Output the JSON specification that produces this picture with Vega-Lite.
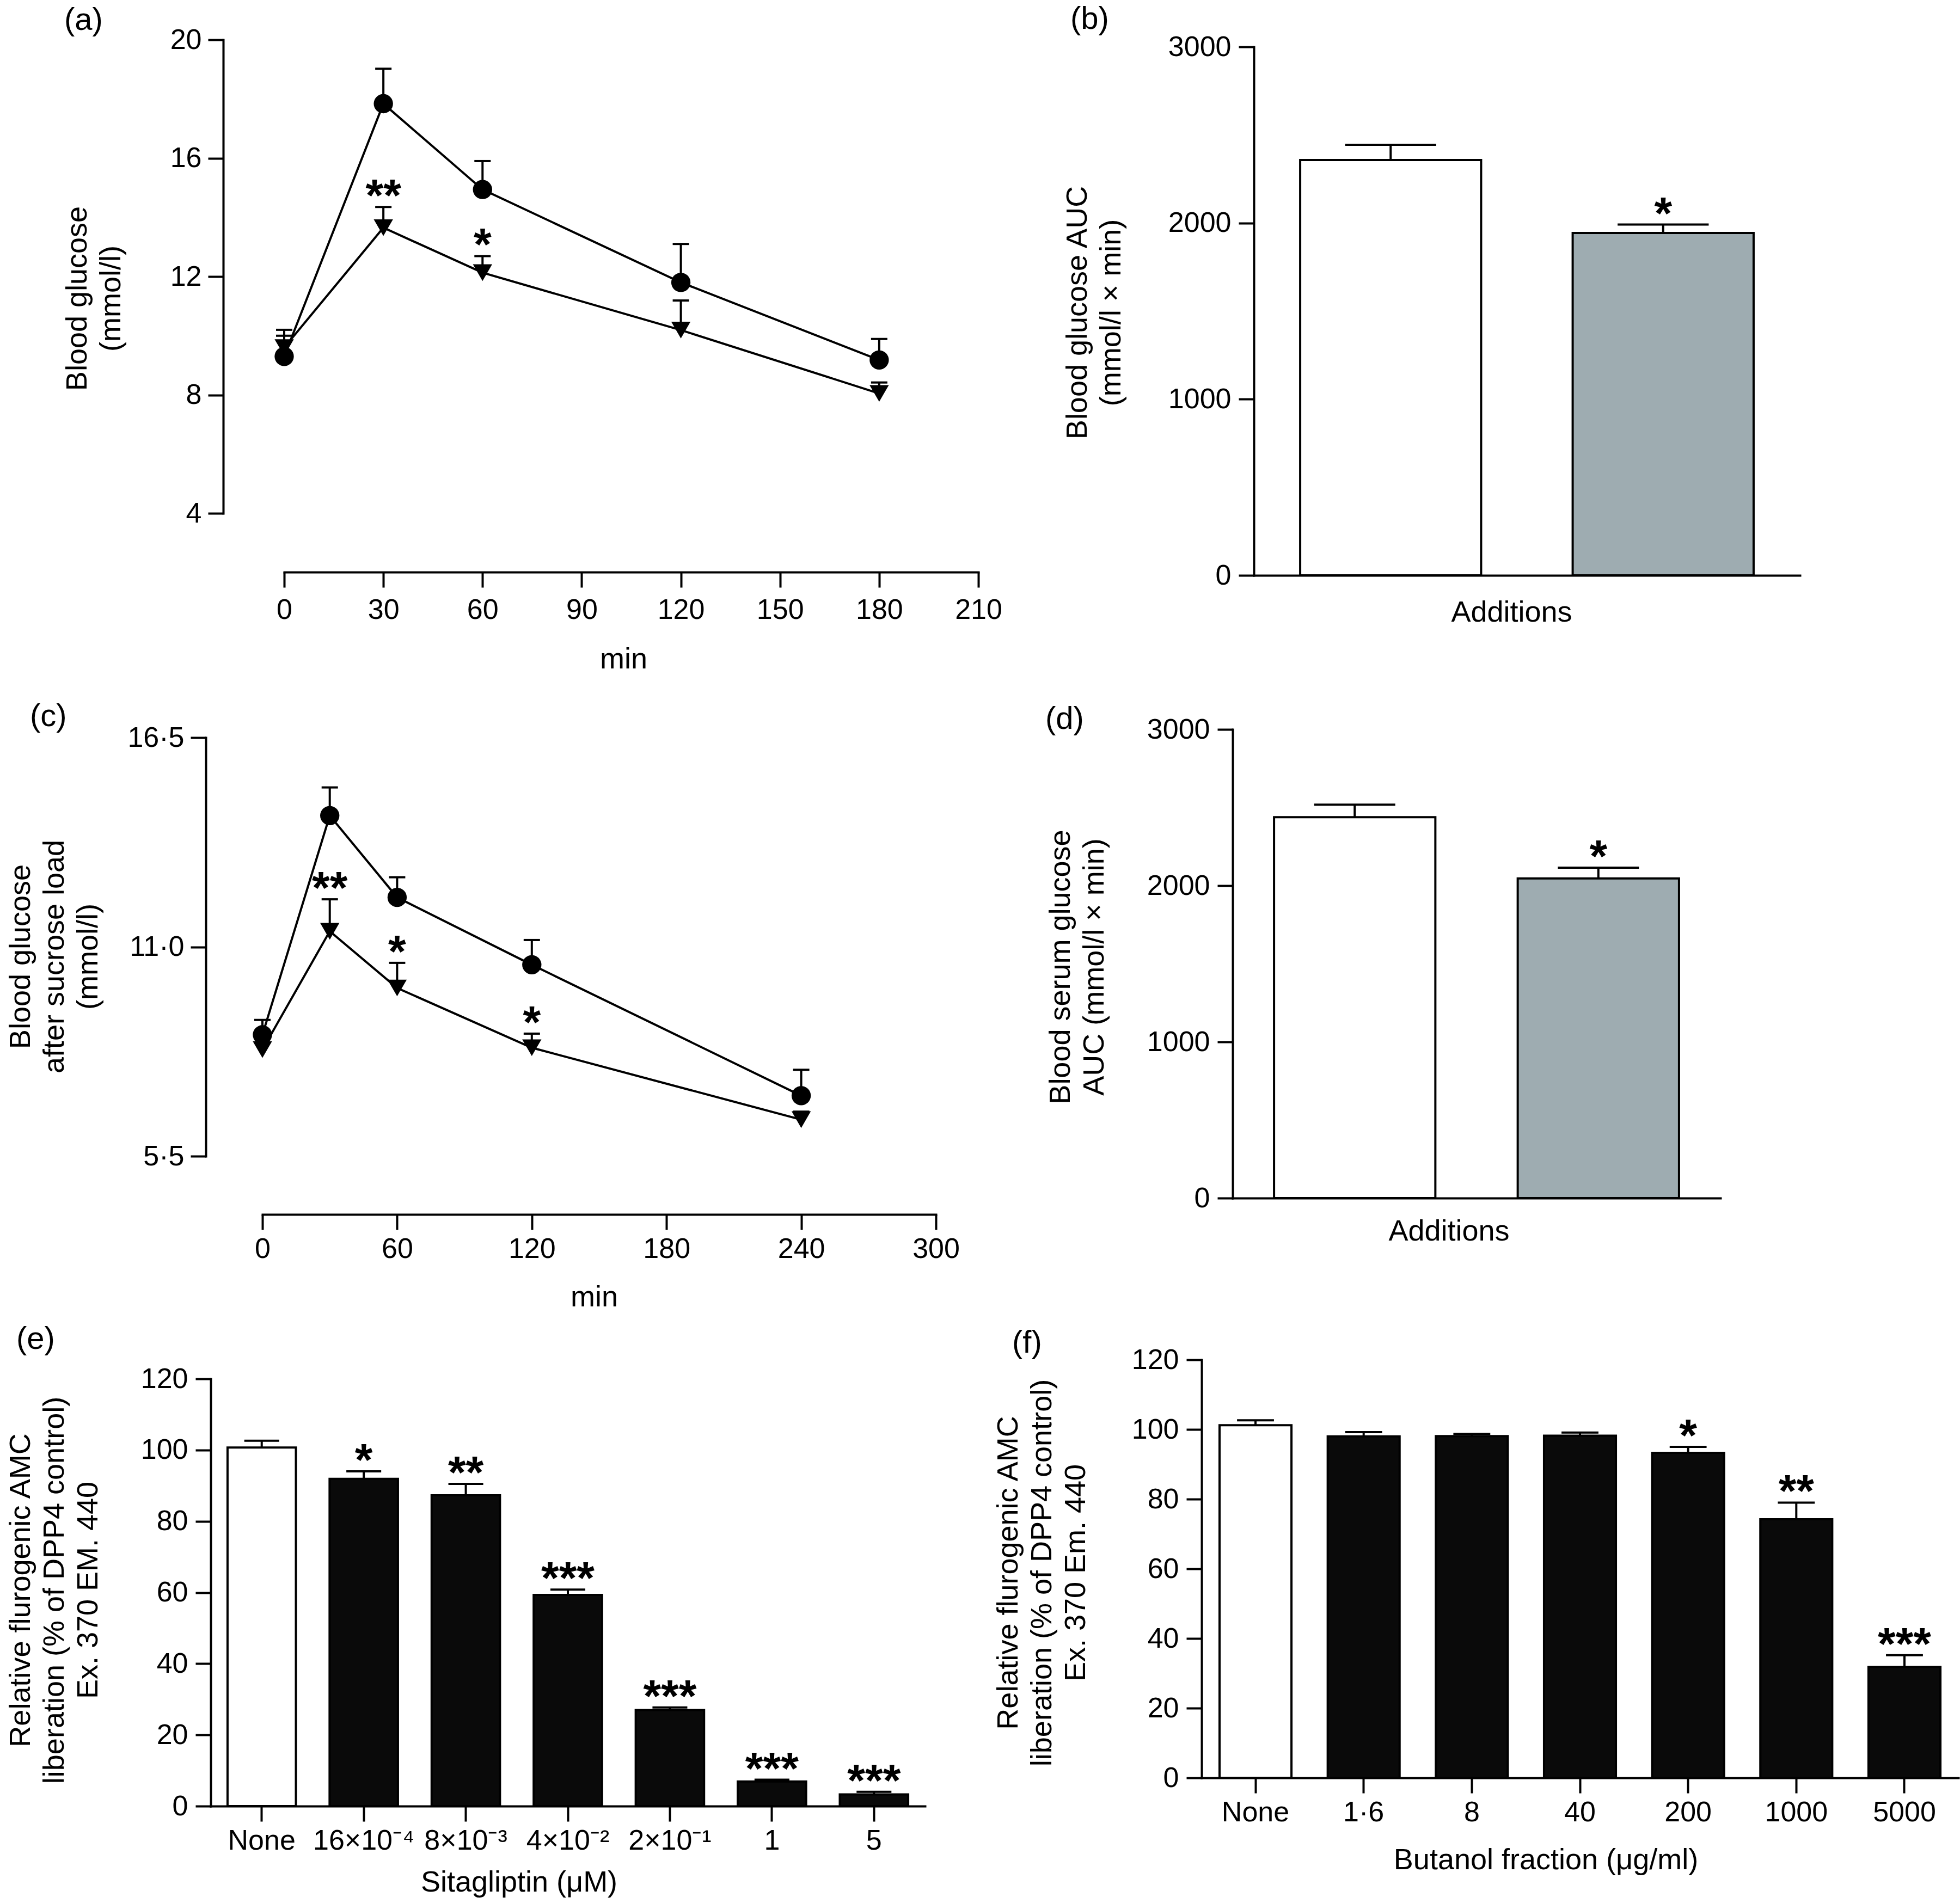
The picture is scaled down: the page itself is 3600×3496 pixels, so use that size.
{
  "$schema": "https://vega.github.io/schema/vega-lite/v6.json",
  "padding": 0,
  "background": "white",
  "bounds": "flush",
  "spacing": 0,
  "columns": 2,
  "config": {
    "view": {"stroke": null},
    "font": "Liberation Sans",
    "axis": {
      "domainColor": "black", "domainWidth": 4, "domainCap": "square",
      "tickColor": "black", "tickWidth": 4, "tickSize": 28,
      "labelFont": "Liberation Sans", "labelFontSize": 52, "labelColor": "black", "labelLimit": 1000,
      "titleFont": "Liberation Sans", "titleFontSize": 54, "titleFontWeight": "normal", "titleColor": "black",
      "titleLineHeight": 62, "grid": false, "labelOverlap": false, "labelFlush": false,
      "titleAlign": "center", "titleBaseline": "middle"
    },
    "title": {"font": "Liberation Sans", "fontSize": 58, "fontWeight": "normal", "color": "black", "anchor": "start", "frame": "group", "offset": 0, "baseline": "middle"}
  },
  "datasets": {
    "a": [
      {"t": 0, "g": "treated", "v": 9.6, "e": 10.0, "sig": ""},
      {"t": 30, "g": "treated", "v": 13.65, "e": 14.35, "sig": "**"},
      {"t": 60, "g": "treated", "v": 12.13, "e": 12.69, "sig": "*"},
      {"t": 120, "g": "treated", "v": 10.19, "e": 11.19, "sig": ""},
      {"t": 180, "g": "treated", "v": 8.05, "e": 8.42, "sig": ""},
      {"t": 0, "g": "control", "v": 9.3, "e": 10.2, "sig": ""},
      {"t": 30, "g": "control", "v": 17.84, "e": 19.02, "sig": ""},
      {"t": 60, "g": "control", "v": 14.94, "e": 15.9, "sig": ""},
      {"t": 120, "g": "control", "v": 11.8, "e": 13.1, "sig": ""},
      {"t": 180, "g": "control", "v": 9.18, "e": 9.89, "sig": ""}
    ],
    "c": [
      {"t": 0, "g": "treated", "v": 8.3, "e": 8.6, "sig": ""},
      {"t": 30, "g": "treated", "v": 11.41, "e": 12.25, "sig": "**"},
      {"t": 60, "g": "treated", "v": 9.92, "e": 10.58, "sig": "*"},
      {"t": 120, "g": "treated", "v": 8.35, "e": 8.72, "sig": "*"},
      {"t": 240, "g": "treated", "v": 6.46, "e": 6.67, "sig": ""},
      {"t": 0, "g": "control", "v": 8.69, "e": 9.08, "sig": ""},
      {"t": 30, "g": "control", "v": 14.45, "e": 15.19, "sig": ""},
      {"t": 60, "g": "control", "v": 12.3, "e": 12.83, "sig": ""},
      {"t": 120, "g": "control", "v": 10.53, "e": 11.18, "sig": ""},
      {"t": 240, "g": "control", "v": 7.09, "e": 7.77, "sig": ""}
    ],
    "b": [
      {"k": "control", "v": 2357, "e": 2444, "sig": ""},
      {"k": "treated", "v": 1943, "e": 1991, "sig": "*"}
    ],
    "d": [
      {"k": "control", "v": 2438, "e": 2518, "sig": ""},
      {"k": "treated", "v": 2046, "e": 2115, "sig": "*"}
    ],
    "e": [
      {"k": "None", "v": 100.7, "e": 102.6, "sig": ""},
      {"k": "16×10⁻⁴", "v": 91.9, "e": 94.0, "sig": "*"},
      {"k": "8×10⁻³", "v": 87.3, "e": 90.5, "sig": "**"},
      {"k": "4×10⁻²", "v": 59.3, "e": 60.8, "sig": "***"},
      {"k": "2×10⁻¹", "v": 27.0, "e": 27.7, "sig": "***"},
      {"k": "1", "v": 6.9, "e": 7.4, "sig": "***"},
      {"k": "5", "v": 3.3, "e": 4.0, "sig": "***"}
    ],
    "f": [
      {"k": "None", "v": 101.2, "e": 102.6, "sig": ""},
      {"k": "1·6", "v": 98.0, "e": 99.2, "sig": ""},
      {"k": "8", "v": 98.1, "e": 98.7, "sig": ""},
      {"k": "40", "v": 98.2, "e": 99.1, "sig": ""},
      {"k": "200", "v": 93.3, "e": 95.0, "sig": "*"},
      {"k": "1000", "v": 74.2, "e": 79.0, "sig": "**"},
      {"k": "5000", "v": 31.8, "e": 35.2, "sig": "***"}
    ]
  },
  "concat": [
    {
      "width": 1800, "height": 1250,
      "title": {"text": "(a)", "dx": 118, "dy": 71},
      "data": {"name": "a"},
      "encoding": {
        "x": {"field": "t", "type": "quantitative",
          "scale": {"domain": [0, 210], "range": [522, 1797], "nice": false, "zero": false},
          "axis": {"orient": "bottom", "offset": -199, "values": [0, 30, 60, 90, 120, 150, 180, 210], "labelPadding": 16,
            "title": "min", "titleX": 1145, "titleY": 160, "titleAngle": 0}},
        "y": {"field": "v", "type": "quantitative",
          "scale": {"domain": [4, 20], "range": [943, 73], "nice": false, "zero": false},
          "axis": {"orient": "left", "offset": -410, "values": [4, 8, 12, 16, 20], "labelPadding": 12, "format": "d",
            "title": ["Blood glucose", "(mmol/l)"], "titleX": -268, "titleY": 548, "titleAngle": 270}}
      },
      "layer": [
        {"mark": {"type": "line", "color": "black", "strokeWidth": 4}, "encoding": {"detail": {"field": "g"}}},
        {"mark": {"type": "rule", "color": "black", "strokeWidth": 4}, "encoding": {"y2": {"field": "e"}}},
        {"mark": {"type": "point", "shape": "stroke", "filled": false, "color": "black", "strokeWidth": 4, "size": 900, "opacity": 1},
          "encoding": {"y": {"field": "e", "type": "quantitative"}}},
        {"mark": {"type": "point", "filled": true, "color": "black", "size": 1250, "opacity": 1},
          "encoding": {"shape": {"field": "g", "type": "nominal", "scale": {"domain": ["control", "treated"], "range": ["circle", "triangle-down"]}, "legend": null}}},
        {"mark": {"type": "text", "fontSize": 84, "fontWeight": "bold", "baseline": "alphabetic", "dy": 8, "color": "black"},
          "encoding": {"y": {"field": "e", "type": "quantitative"}, "text": {"field": "sig"}}}
      ]
    },
    {
      "width": 1800, "height": 1250,
      "title": {"text": "(b)", "dx": 166, "dy": 69},
      "data": {"name": "b"},
      "encoding": {
        "x": {"field": "k", "type": "nominal",
          "scale": {"domain": ["control", "treated"], "range": [503, 1506], "paddingInner": 0.336, "paddingOuter": 0.17},
          "axis": {"orient": "bottom", "offset": -193, "ticks": false, "labels": false,
            "title": "Additions", "titleX": 976, "titleY": 68, "titleAngle": 0}},
        "y": {"field": "v", "type": "quantitative",
          "scale": {"domain": [0, 3000], "range": [1057, 86], "nice": false, "zero": false},
          "axis": {"orient": "left", "offset": -503, "values": [0, 1000, 2000, 3000], "labelPadding": 14, "format": "d",
            "title": ["Blood glucose AUC", "(mmol/l × min)"], "titleX": -324, "titleY": 574, "titleAngle": 270}}
      },
      "layer": [
        {"mark": {"type": "bar", "stroke": "black", "strokeWidth": 4},
          "encoding": {"fill": {"condition": {"test": "datum.k === 'control'", "value": "white"}, "value": "#9eacb1"}}},
        {"mark": {"type": "rule", "color": "black", "strokeWidth": 4}, "encoding": {"y2": {"field": "e"}}},
        {"mark": {"type": "point", "shape": "stroke", "filled": false, "color": "black", "strokeWidth": 4, "size": 28000, "opacity": 1},
          "encoding": {"y": {"field": "e", "type": "quantitative"}}},
        {"mark": {"type": "text", "fontSize": 84, "fontWeight": "bold", "baseline": "alphabetic", "dy": 8, "color": "black"},
          "encoding": {"y": {"field": "e", "type": "quantitative"}, "text": {"field": "sig"}}}
      ]
    },
    {
      "width": 1800, "height": 1150,
      "title": {"text": "(c)", "dx": 55, "dy": 100},
      "data": {"name": "c"},
      "encoding": {
        "x": {"field": "t", "type": "quantitative",
          "scale": {"domain": [0, 300], "range": [482, 1719], "nice": false, "zero": false},
          "axis": {"orient": "bottom", "offset": -169, "values": [0, 60, 120, 180, 240, 300], "labelPadding": 10,
            "title": "min", "titleX": 1091, "titleY": 152, "titleAngle": 0}},
        "y": {"field": "v", "type": "quantitative",
          "scale": {"domain": [5.5, 16.5], "range": [874, 105], "nice": false, "zero": false},
          "axis": {"orient": "left", "offset": -378, "values": [5.5, 11, 16.5], "labelPadding": 12,
            "labelExpr": "replace(format(datum.value, '.1f'), '.', '·')",
            "title": ["Blood glucose", "after sucrose load", "(mmol/l)"], "titleX": -340, "titleY": 507, "titleAngle": 270}}
      },
      "layer": [
        {"mark": {"type": "line", "color": "black", "strokeWidth": 4}, "encoding": {"detail": {"field": "g"}}},
        {"mark": {"type": "rule", "color": "black", "strokeWidth": 4}, "encoding": {"y2": {"field": "e"}}},
        {"mark": {"type": "point", "shape": "stroke", "filled": false, "color": "black", "strokeWidth": 4, "size": 900, "opacity": 1},
          "encoding": {"y": {"field": "e", "type": "quantitative"}}},
        {"mark": {"type": "point", "filled": true, "color": "black", "size": 1250, "opacity": 1},
          "encoding": {"shape": {"field": "g", "type": "nominal", "scale": {"domain": ["control", "treated"], "range": ["circle", "triangle-down"]}, "legend": null}}},
        {"mark": {"type": "text", "fontSize": 84, "fontWeight": "bold", "baseline": "alphabetic", "dy": 8, "color": "black"},
          "encoding": {"y": {"field": "e", "type": "quantitative"}, "text": {"field": "sig"}}}
      ]
    },
    {
      "width": 1800, "height": 1150,
      "title": {"text": "(d)", "dx": 120, "dy": 105},
      "data": {"name": "d"},
      "encoding": {
        "x": {"field": "k", "type": "nominal",
          "scale": {"domain": ["control", "treated"], "range": [464, 1360], "paddingInner": 0.338, "paddingOuter": 0.17},
          "axis": {"orient": "bottom", "offset": -199, "ticks": false, "labels": false,
            "title": "Additions", "titleX": 861, "titleY": 61, "titleAngle": 0}},
        "y": {"field": "v", "type": "quantitative",
          "scale": {"domain": [0, 3000], "range": [951, 90], "nice": false, "zero": false},
          "axis": {"orient": "left", "offset": -464, "values": [0, 1000, 2000, 3000], "labelPadding": 14, "format": "d",
            "title": ["Blood serum glucose", "AUC (mmol/l × min)"], "titleX": -316, "titleY": 526, "titleAngle": 270}}
      },
      "layer": [
        {"mark": {"type": "bar", "stroke": "black", "strokeWidth": 4},
          "encoding": {"fill": {"condition": {"test": "datum.k === 'control'", "value": "white"}, "value": "#9eacb1"}}},
        {"mark": {"type": "rule", "color": "black", "strokeWidth": 4}, "encoding": {"y2": {"field": "e"}}},
        {"mark": {"type": "point", "shape": "stroke", "filled": false, "color": "black", "strokeWidth": 4, "size": 22200, "opacity": 1},
          "encoding": {"y": {"field": "e", "type": "quantitative"}}},
        {"mark": {"type": "text", "fontSize": 84, "fontWeight": "bold", "baseline": "alphabetic", "dy": 8, "color": "black"},
          "encoding": {"y": {"field": "e", "type": "quantitative"}, "text": {"field": "sig"}}}
      ]
    },
    {
      "width": 1800, "height": 1096,
      "title": {"text": "(e)", "dx": 30, "dy": 94},
      "data": {"name": "e"},
      "encoding": {
        "x": {"field": "k", "type": "nominal",
          "scale": {"domain": ["None", "16×10⁻⁴", "8×10⁻³", "4×10⁻²", "2×10⁻¹", "1", "5"], "range": [387, 1699], "paddingInner": 0.33, "paddingOuter": 0.165},
          "axis": {"orient": "bottom", "offset": -178, "labelPadding": 10, "labelAngle": 0,
            "title": "Sitagliptin (μM)", "titleX": 953, "titleY": 140, "titleAngle": 0}},
        "y": {"field": "v", "type": "quantitative",
          "scale": {"domain": [0, 120], "range": [918, 133], "nice": false, "zero": false},
          "axis": {"orient": "left", "offset": -387, "values": [0, 20, 40, 60, 80, 100, 120], "labelPadding": 14, "format": "d",
            "title": ["Relative flurogenic AMC", "liberation (% of DPP4 control)", "Ex. 370 EM. 440"], "titleX": -349, "titleY": 521, "titleAngle": 270}}
      },
      "layer": [
        {"mark": {"type": "bar", "stroke": "black", "strokeWidth": 4},
          "encoding": {"fill": {"condition": {"test": "datum.k === 'None'", "value": "white"}, "value": "#0a0a0a"}}},
        {"mark": {"type": "rule", "color": "black", "strokeWidth": 4}, "encoding": {"y2": {"field": "e"}}},
        {"mark": {"type": "point", "shape": "stroke", "filled": false, "color": "black", "strokeWidth": 4, "size": 4100, "opacity": 1},
          "encoding": {"y": {"field": "e", "type": "quantitative"}}},
        {"mark": {"type": "text", "fontSize": 84, "fontWeight": "bold", "baseline": "alphabetic", "dy": 8, "color": "black"},
          "encoding": {"y": {"field": "e", "type": "quantitative"}, "text": {"field": "sig"}}}
      ]
    },
    {
      "width": 1800, "height": 1096,
      "title": {"text": "(f)", "dx": 59, "dy": 101},
      "data": {"name": "f"},
      "encoding": {
        "x": {"field": "k", "type": "nominal",
          "scale": {"domain": ["None", "1·6", "8", "40", "200", "1000", "5000"], "range": [407, 1797], "paddingInner": 0.335, "paddingOuter": 0.166},
          "axis": {"orient": "bottom", "offset": -230, "labelPadding": 10, "labelAngle": 0,
            "title": "Butanol fraction (μg/ml)", "titleX": 1039, "titleY": 151, "titleAngle": 0}},
        "y": {"field": "v", "type": "quantitative",
          "scale": {"domain": [0, 120], "range": [866, 98], "nice": false, "zero": false},
          "axis": {"orient": "left", "offset": -407, "values": [0, 20, 40, 60, 80, 100, 120], "labelPadding": 14, "format": "d",
            "title": ["Relative flurogenic AMC", "liberation (% of DPP4 control)", "Ex. 370 Em. 440"], "titleX": -355, "titleY": 489, "titleAngle": 270}}
      },
      "layer": [
        {"mark": {"type": "bar", "stroke": "black", "strokeWidth": 4},
          "encoding": {"fill": {"condition": {"test": "datum.k === 'None'", "value": "white"}, "value": "#0a0a0a"}}},
        {"mark": {"type": "rule", "color": "black", "strokeWidth": 4}, "encoding": {"y2": {"field": "e"}}},
        {"mark": {"type": "point", "shape": "stroke", "filled": false, "color": "black", "strokeWidth": 4, "size": 4600, "opacity": 1},
          "encoding": {"y": {"field": "e", "type": "quantitative"}}},
        {"mark": {"type": "text", "fontSize": 84, "fontWeight": "bold", "baseline": "alphabetic", "dy": 8, "color": "black"},
          "encoding": {"y": {"field": "e", "type": "quantitative"}, "text": {"field": "sig"}}}
      ]
    }
  ]
}
